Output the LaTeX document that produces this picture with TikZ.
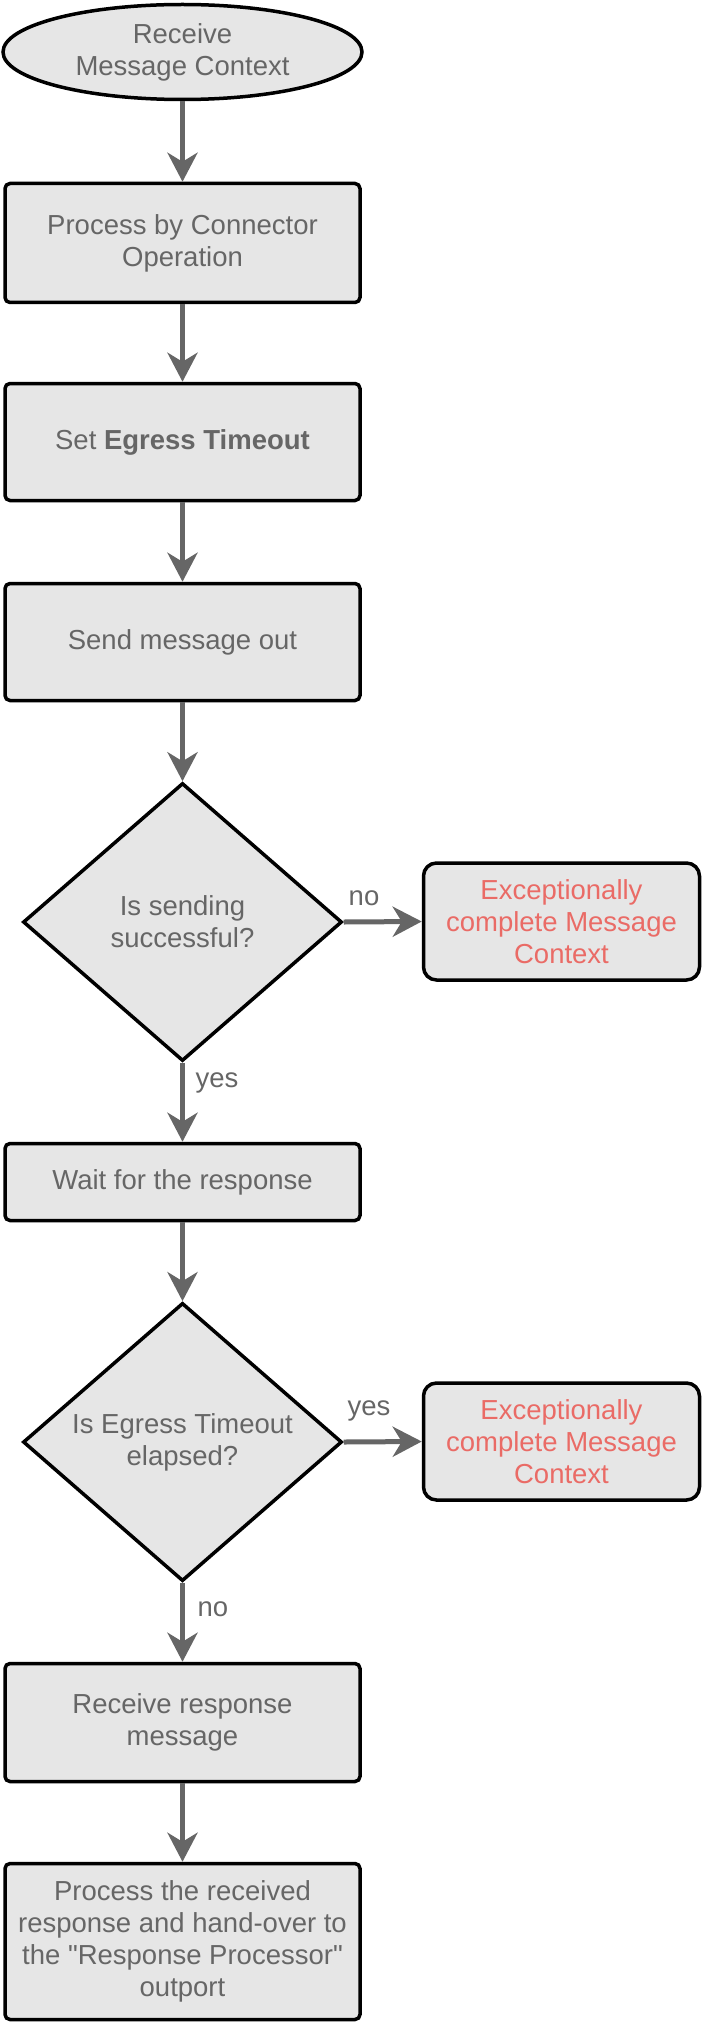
\documentclass[tikz,border=0pt]{standalone}
\usepackage{fontspec}
\setmainfont{Liberation Sans}[Ligatures=TeXOff]
\usetikzlibrary{shapes.geometric,arrows.meta}
\definecolor{txtgray}{HTML}{666666}
\definecolor{boxfill}{HTML}{E6E6E6}
\definecolor{redtext}{HTML}{EA6B66}
\definecolor{arrgray}{HTML}{666666}
\begin{document}
\begin{tikzpicture}[x=1pt,y=-1pt,
  every node/.style={font=\fontsize{27.5}{32}\selectfont, text=txtgray, align=center},
  proc/.style={draw=black, line width=3.5pt, fill=boxfill, rounded corners=5pt,
    minimum width=355pt, inner sep=0pt},
  startbox/.style={ellipse, draw=black, line width=3.5pt, fill=boxfill,
    minimum width=359pt, minimum height=95pt, inner sep=0pt},
  decision/.style={diamond, draw=black, line width=3.5pt, fill=boxfill,
    minimum width=319pt, minimum height=278pt, inner sep=0pt},
  excbox/.style={draw=black, line width=3.5pt, fill=boxfill, rounded corners=13pt,
    minimum width=276pt, minimum height=117pt, inner sep=0pt, text=redtext},
  flow/.style={draw=arrgray, line width=5pt,
    -{Stealth[length=29pt, width=30pt, inset=9pt]}},
  lbl/.style={inner sep=0pt}
]
\useasboundingbox (0,0) rectangle (704,2025);

\node[startbox] (start) at (182.5,52) {Receive\\Message Context};
\node[proc, minimum height=119pt] (conn) at (182.5,243) {Process by Connector\\Operation};
\node[proc, minimum height=117pt] (setto) at (182.5,442) {Set \textbf{Egress Timeout}};
\node[proc, minimum height=117pt] (send) at (182.5,642) {Send message out};
\node[decision] (dsend) at (182.5,922) {Is sending\\successful?};
\node[excbox] (exc1) at (561.5,921.5) {Exceptionally\\complete Message\\Context};
\node[proc, minimum height=77pt] (wait) at (182.5,1182) {Wait for the response};
\node[decision] (dtime) at (182.5,1442) {Is Egress Timeout\\elapsed?};
\node[excbox] (exc2) at (561.5,1441.5) {Exceptionally\\complete Message\\Context};
\node[proc, minimum height=118pt] (recv) at (182.5,1722.5) {Receive response\\message};
\node[proc, minimum height=156pt] (final) at (182.5,1941.5) {Process the received\\response and hand-over to\\the "Response Processor"\\outport};

\draw[flow] (start) -- (conn);
\draw[flow] (conn) -- (setto);
\draw[flow] (setto) -- (send);
\draw[flow] (send) -- (dsend);
\draw[flow] (dsend.east) -- (exc1.west);
\draw[flow] (dsend.south) -- (wait.north);
\draw[flow] (wait) -- (dtime);
\draw[flow] (dtime.east) -- (exc2.west);
\draw[flow] (dtime.south) -- (recv.north);
\draw[flow] (recv) -- (final);

\node[lbl] (lno1) at (364,898) {no};
\node[lbl] (lyes1) at (217,1083) {yes};
\node[lbl] (lyes2) at (369,1411) {yes};
\node[lbl] (lno2) at (213,1609) {no};
\end{tikzpicture}
\end{document}
